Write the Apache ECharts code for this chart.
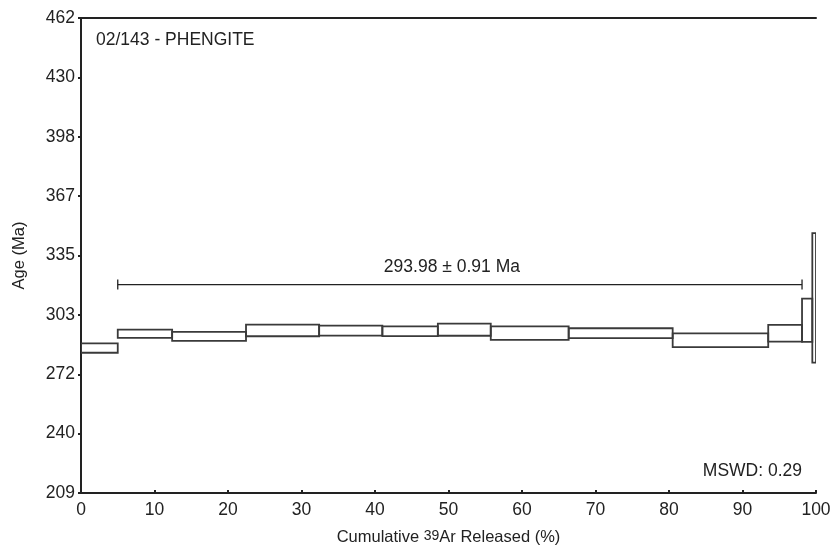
<!DOCTYPE html>
<html>
<head>
<meta charset="utf-8">
<title>02/143 - PHENGITE</title>
<script src="https://cdn.jsdelivr.net/npm/echarts@6/dist/echarts.min.js"></script>
<style>
  html, body { margin: 0; padding: 0; background: #fff; }
  #chart { width: 836px; height: 553px; }
</style>
</head>
<body>
<div id="chart"></div>
<script>
// cumulative 39Ar released (%) at step edges
var stepEdges = [0, 5.0, 12.4, 22.45, 32.4, 41.0, 48.55, 55.75, 66.35, 80.5, 93.5, 98.1, 99.5, 100];
// apparent age of each step (Ma) and its half error
var stepAges = [286.2, 293.8, 292.4, 295.6, 295.45, 295.2, 296.0, 294.2, 294.1, 290.4, 294.1, 301.0, 312.9];
var stepErrors = [2.5, 2.2, 2.4, 3.1, 2.65, 2.6, 3.25, 3.6, 2.65, 3.65, 4.5, 11.5, 34.5];

// plateau bar: from step 2 to step 11
var plateauRange = [5.0, 98.1];
var plateauLevel = 320;
var plateauText = '293.98 \u00b1 0.91 Ma';

var sampleName = '02/143 - PHENGITE';
var mswdText = 'MSWD: 0.29';

var yTicks = [209, 240, 272, 303, 335, 367, 398, 430, 462];

var boxes = [];
for (var i = 0; i < stepAges.length; i++) {
    boxes.push([stepEdges[i], stepEdges[i + 1], stepAges[i] - stepErrors[i], stepAges[i] + stepErrors[i]]);
}

var font = 'Liberation Sans, Arial, Helvetica, sans-serif';
var ink = '#222';
var fs = 17.5;

var chart = echarts.init(document.getElementById('chart'));
chart.setOption({
    animation: false,
    grid: { left: 81, right: 20, top: 18, bottom: 60, outerBoundsMode: 'none', containLabel: false },
    xAxis: [{
        type: 'value',
        min: 0, max: 100, interval: 10,
        axisLine: { lineStyle: { color: ink, width: 2 } },
        axisTick: { inside: true, length: 3, lineStyle: { color: ink, width: 2 } },
        axisLabel: { color: ink, fontSize: fs, fontFamily: font, margin: 8 },
        splitLine: { show: false },
        name: '{n|Cumulative }{s|39}{n|Ar Released (%)}',
        nameLocation: 'middle',
        nameGap: 36,
        nameTextStyle: {
            rich: {
                n: { fontSize: 16.5, fontFamily: font, color: ink, lineHeight: 17, verticalAlign: 'bottom' },
                s: { fontSize: 14, fontFamily: font, color: ink, lineHeight: 14, verticalAlign: 'top', padding: [0, 0, 8, 0] }
            }
        }
    }, {
        type: 'value', position: 'top',
        min: 0, max: 100,
        axisLine: { show: true, lineStyle: { color: ink, width: 2 } },
        axisTick: { show: false }, axisLabel: { show: false }, splitLine: { show: false }
    }],
    yAxis: [{
        type: 'value',
        min: 209, max: 462, interval: 253 / 8,
        axisLine: { show: true, lineStyle: { color: ink, width: 2 } },
        axisTick: { show: true, length: 3, lineStyle: { color: ink, width: 2 } },
        axisLabel: {
            color: ink, fontSize: fs, fontFamily: font, margin: 6,
            formatter: function (v) {
                var k = Math.round((v - 209) / (253 / 8));
                return yTicks[k];
            }
        },
        splitLine: { show: false },
        name: 'Age (Ma)',
        nameLocation: 'middle',
        nameGap: 53,
        nameTextStyle: { fontSize: 16.5, fontFamily: font, color: ink }
    }, {
        type: 'value', position: 'right',
        min: 209, max: 462,
        axisLine: { show: true, lineStyle: { color: ink, width: 2 } },
        axisTick: { show: false }, axisLabel: { show: false }, splitLine: { show: false }
    }],
    graphic: [
        { type: 'text', left: 96, top: 31, style: { text: sampleName, fontSize: fs, fontFamily: font, fill: ink } },
        { type: 'text', right: 34, top: 462, style: { text: mswdText, fontSize: fs, fontFamily: font, fill: ink } }
    ],
    series: [{
        type: 'custom',
        data: boxes,
        clip: true,
        renderItem: function (params, api) {
            var p0 = api.coord([api.value(0), api.value(3)]);
            var p1 = api.coord([api.value(1), api.value(2)]);
            return {
                type: 'rect',
                shape: { x: p0[0], y: p0[1], width: p1[0] - p0[0], height: p1[1] - p0[1] },
                style: { fill: 'none', stroke: '#3a3a3a', lineWidth: 1.8 }
            };
        }
    }, {
        type: 'custom',
        data: [[plateauRange[0], plateauRange[1], plateauLevel]],
        renderItem: function (params, api) {
            var a = api.coord([api.value(0), api.value(2)]);
            var b = api.coord([api.value(1), api.value(2)]);
            var st = { stroke: ink, lineWidth: 1.3 };
            return {
                type: 'group',
                children: [
                    { type: 'line', shape: { x1: a[0], y1: a[1], x2: b[0], y2: b[1] }, style: st },
                    { type: 'line', shape: { x1: a[0], y1: a[1] - 5, x2: a[0], y2: a[1] + 5 }, style: st },
                    { type: 'line', shape: { x1: b[0], y1: b[1] - 5, x2: b[0], y2: b[1] + 5 }, style: st },
                    {
                        type: 'text',
                        x: (a[0] + b[0]) / 2 - 8, y: a[1] - 8,
                        style: {
                            text: plateauText, fontSize: fs, fontFamily: font, fill: ink,
                            align: 'center', verticalAlign: 'bottom'
                        }
                    }
                ]
            };
        }
    }]
});
</script>
</body>
</html>
